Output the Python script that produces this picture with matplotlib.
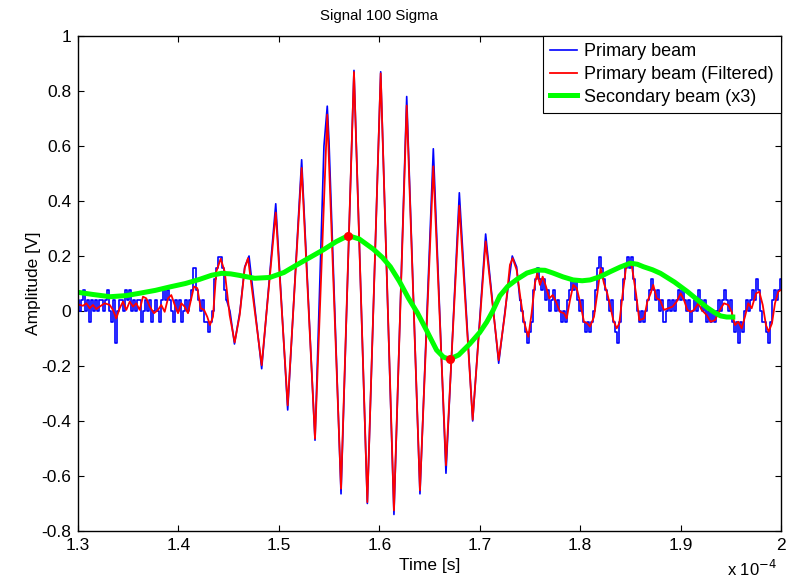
import numpy as np
import matplotlib.pyplot as plt
from matplotlib.ticker import FuncFormatter, MultipleLocator

plt.rcParams['font.family'] = ['Liberation Sans', 'DejaVu Sans']

# all times in microseconds, amplitudes in volts

# raw primary beam, noisy parts sampled every 0.2 us, values in ADC counts
adc_step = 0.039
dt_raw = 0.2
blue_left_t0 = 130.0
blue_left_counts = [1, 0, 1, 2, 0, 1, -1, 1, 0, 1,
                    0, 1, 1, 0, 1, 2, 0, -1, 1, -3,
                    0, 1, 1, 0, 2, 1, 2, 0, 1, 0,
                    1, 1, -1, 0, 1, 0, 1, -1, 0, 1,
                    0, -1, 1, 2, 1, 2, 1, 0, -1, 1,
                    0, 1, -1, 0, 1, 0, 1, 2, 4, 2,
                    1, 0, 1, -1, -1, -2, -1, 0, 3, 4,
                    5, 5, 4, 2, 1]
# burst part of the raw trace (peaks / troughs)
blue_burst = [(145.13, 0.0), (145.58, -0.12), (146.13, 0.0), (146.60, 0.16),
              (147.03, 0.20), (148.29, -0.21), (149.69, 0.39), (150.88, -0.36),
              (152.27, 0.55), (153.60, -0.47), (154.49, 0.60), (154.82, 0.745),
              (154.99, 0.62), (156.19, -0.665), (157.48, 0.875), (158.81, -0.70),
              (160.14, 0.87), (161.46, -0.74), (162.73, 0.78), (164.05, -0.665),
              (165.38, 0.59), (166.64, -0.59), (167.97, 0.43), (169.30, -0.40),
              (170.59, 0.28), (171.89, -0.19), (172.52, 0.0), (173.24, 0.20),
              (173.68, 0.16)]
blue_right_t0 = 174.0
blue_right_counts = [1, 0, -1, -2, -3, -2, -1, 2, 3, 4,
                     3, 2, 3, 1, 2, 0, 1, 2, 0, 1,
                     0, -1, 0, -1, 1, 2, 3, 2, 3, 1,
                     0, 1, -1, -2, -1, -2, -1, 0, 2, 4,
                     5, 4, 3, 2, 1, 0, 1, -1, -2, -3,
                     -1, 1, 3, 4, 5, 4, 5, 3, 1, 0,
                     -1, 0, -1, 0, 1, 2, 3, 2, 1, 2,
                     0, 1, -1, 0, 1, 0, 1, 0, 1, 2,
                     1, 2, 1, 0, 1, -1, 0, 1, 0, 2,
                     1, 0, 1, -1, 0, -1, 0, -1, 0, 1,
                     0, 1, 2, 1, 0, 1, -1, -2, -1, -3,
                     -1, -2, 0, 1, 0, 1, 2, 1, 3, 2,
                     0, -1, -1, -2, -3, -1, 1, 2, 1, 2, 3]

# filtered primary beam
red_pts = [(130.00, 0.024), (130.50, 0.019), (130.83, 0.028), (131.16, 0.010),
           (131.49, 0.022), (131.82, 0.007), (132.16, 0.016), (132.66, 0.028),
           (133.16, 0.022), (133.48, 0.004), (133.81, -0.027), (134.15, 0.010),
           (134.48, 0.034), (134.81, 0.004), (135.15, 0.034), (135.48, 0.016),
           (135.80, 0.028), (136.14, 0.004), (136.47, 0.052), (136.80, 0.046),
           (137.14, 0.016), (137.57, -0.008), (137.97, 0.004), (138.29, 0.022),
           (138.63, -0.003), (138.96, 0.046), (139.29, 0.058), (139.63, 0.022),
           (139.96, -0.008), (140.29, 0.028), (140.62, 0.016), (140.95, -0.008),
           (141.28, 0.046), (141.55, 0.089), (141.88, 0.083), (142.22, 0.010),
           (142.55, 0.004), (142.87, -0.021), (143.14, -0.051), (143.44, -0.021),
           (143.77, 0.143), (144.21, 0.190), (144.61, 0.143), (145.10, -0.015),
           (145.60, -0.114), (146.10, -0.015), (146.60, 0.156), (146.93, 0.192),
           (148.29, -0.197), (149.69, 0.358), (150.88, -0.343), (152.27, 0.520),
           (153.60, -0.464), (154.82, 0.714), (156.19, -0.646), (157.48, 0.869),
           (158.81, -0.695), (160.14, 0.864), (161.46, -0.725), (162.73, 0.747),
           (164.05, -0.652), (165.38, 0.526), (166.64, -0.561), (167.97, 0.383),
           (169.30, -0.395), (170.59, 0.253), (171.89, -0.179),
           (172.52, -0.008), (173.01, 0.168), (173.28, 0.192), (173.68, 0.149),
           (174.08, 0.040), (174.41, -0.039), (174.84, -0.094), (175.17, -0.008),
           (175.50, 0.101), (175.73, 0.137), (176.00, 0.095), (176.27, 0.125),
           (176.60, 0.089), (176.93, 0.046), (177.27, 0.058), (177.59, 0.034),
           (177.99, -0.003), (178.39, -0.008), (178.66, -0.027), (178.99, 0.040),
           (179.32, 0.095), (179.66, 0.083), (179.98, 0.034), (180.38, -0.039),
           (180.71, -0.045), (180.98, -0.057), (181.38, -0.021), (181.71, 0.064),
           (182.04, 0.156), (182.37, 0.101), (182.70, 0.064), (182.97, 0.022),
           (183.30, -0.033), (183.64, -0.063), (183.90, -0.045), (184.24, 0.064),
           (184.56, 0.156), (184.89, 0.180), (185.16, 0.160), (185.56, 0.064),
           (185.89, -0.033), (186.36, -0.027), (186.69, 0.034), (187.02, 0.064),
           (187.28, 0.095), (187.62, 0.046), (187.95, 0.040), (188.35, 0.004),
           (188.78, 0.010), (189.21, 0.016), (189.61, 0.034), (190.01, 0.064),
           (190.34, 0.040), (190.67, 0.004), (191.01, -0.003), (191.34, 0.004),
           (191.76, 0.028), (192.10, 0.004), (192.60, -0.015), (193.00, -0.039),
           (193.43, -0.033), (193.92, 0.004), (194.32, 0.028), (194.75, 0.022),
           (195.09, -0.003), (195.42, -0.051), (195.75, -0.039), (196.08, -0.063),
           (196.41, -0.021), (196.74, 0.028), (197.08, 0.010), (197.51, 0.064),
           (197.84, 0.070), (198.18, 0.022), (198.50, -0.051), (198.77, -0.075),
           (199.10, -0.045), (199.40, 0.028), (199.73, 0.070), (200.00, 0.077)]

# secondary beam, already multiplied by 3
green_pts = [(130.0, 0.068), (131.5, 0.060), (133.2, 0.052), (134.8, 0.056),
             (136.2, 0.065), (137.7, 0.075), (139.2, 0.088), (140.7, 0.100),
             (142.1, 0.115), (143.3, 0.130), (144.3, 0.137), (145.2, 0.135),
             (146.0, 0.130), (147.6, 0.119), (149.1, 0.122), (150.5, 0.140),
             (151.8, 0.168), (153.1, 0.195), (154.4, 0.222), (155.7, 0.252),
             (156.9, 0.274), (158.0, 0.262), (159.4, 0.225), (160.3, 0.195),
             (161.1, 0.161), (162.0, 0.108), (162.9, 0.047), (163.8, -0.007),
             (164.7, -0.070), (165.7, -0.142), (166.4, -0.168), (167.0, -0.175),
             (167.9, -0.160), (169.0, -0.120), (170.0, -0.078), (170.7, -0.040),
             (171.3, 0.000), (172.0, 0.055), (172.8, 0.090), (173.7, 0.115),
             (174.7, 0.138), (175.7, 0.149), (176.5, 0.148), (177.3, 0.138),
             (178.3, 0.124), (179.3, 0.113), (180.2, 0.110), (181.0, 0.113),
             (182.0, 0.125), (183.0, 0.143), (184.0, 0.160), (185.0, 0.174),
             (185.7, 0.170), (186.3, 0.161), (187.2, 0.150), (188.0, 0.137),
             (189.4, 0.105), (190.7, 0.070), (191.7, 0.040), (192.7, 0.011),
             (193.4, -0.006), (194.0, -0.018), (194.6, -0.022), (195.2, -0.022)]

# extrema of the secondary beam
peak_t = [156.9, 167.0]
peak_v = [0.274, -0.175]

us = 1e-6

left_t = blue_left_t0 + dt_raw * np.arange(len(blue_left_counts))
left_v = adc_step * np.array(blue_left_counts)
right_t = blue_right_t0 + dt_raw * np.arange(len(blue_right_counts))
right_v = adc_step * np.array(blue_right_counts)
burst_t = [left_t[-1]] + [p[0] for p in blue_burst] + [right_t[0]]
burst_v = [left_v[-1]] + [p[1] for p in blue_burst] + [right_v[0]]
red_t, red_v = np.array(red_pts).T
green_t, green_v = np.array(green_pts).T

fig = plt.figure(figsize=(7.98, 5.79), dpi=100)
ax = fig.add_axes([78 / 798, 1 - 531 / 579, 703 / 798, 495 / 579])

blue = '#0000ff'
ax.plot(left_t * us, left_v, color=blue, lw=1.2, drawstyle='steps-mid',
        label='Primary beam')
ax.plot(np.array(burst_t) * us, burst_v, color=blue, lw=1.2)
ax.plot(right_t * us, right_v, color=blue, lw=1.2, drawstyle='steps-mid')
ax.plot(red_t * us, red_v, color='#ff0000', lw=1.3, label='Primary beam (Filtered)')
ax.plot(green_t * us, green_v, color='#00ff00', lw=3.6, label='Secondary beam (x3)')
ax.plot(np.array(peak_t) * us, peak_v, 'o', color='#ff0000', ms=5.5)

ax.set_xlim(1.3e-4, 2.0e-4)
ax.set_ylim(-0.8, 1.0)
ax.xaxis.set_major_locator(MultipleLocator(1e-5))
ax.yaxis.set_major_locator(MultipleLocator(0.2))
ax.xaxis.set_major_formatter(FuncFormatter(lambda v, p: '%g' % round(v * 1e4, 6)))
ax.yaxis.set_major_formatter(FuncFormatter(lambda v, p: '%g' % round(v, 6)))
ax.tick_params(direction='in', length=4, width=0.8, top=True, right=True,
               labelsize=12.5, pad=5)
for s in ax.spines.values():
    s.set_linewidth(1.0)

ax.set_title('Signal 100 Sigma', fontsize=10.8, pad=11.5, x=0.428)
ax.set_xlabel('Time [s]', fontsize=12.5)
ax.set_ylabel('Amplitude [V]', fontsize=12.5)
ax.xaxis.set_label_coords(0.5, -0.055)
ax.yaxis.set_label_coords(-0.052, 0.5)
ax.text(0.995, -0.077, r'x 10$^{-4}$', transform=ax.transAxes, ha='right',
        va='center', fontsize=12)

leg = ax.legend(loc='upper right', borderaxespad=0, fancybox=False,
                edgecolor='black', framealpha=1, fontsize=13,
                handlelength=1.5, handletextpad=0.4, borderpad=0.4,
                labelspacing=0.32)
leg.get_frame().set_linewidth(0.8)

fig.savefig('out.png', dpi=100)
